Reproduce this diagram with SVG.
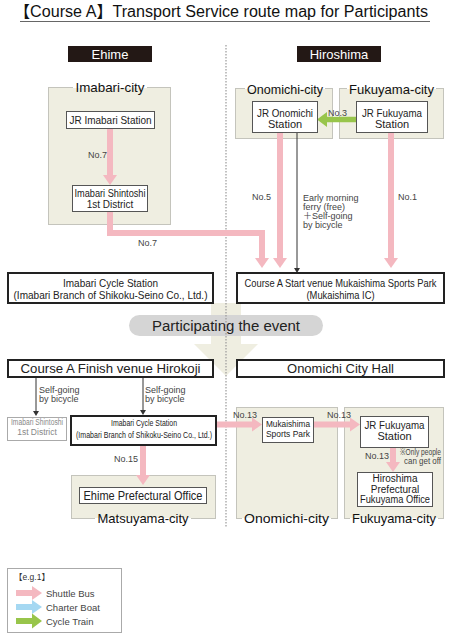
<svg xmlns="http://www.w3.org/2000/svg" width="450" height="640" viewBox="0 0 450 640">
<style>
text{font-family:"Liberation Sans","Noto Sans","Noto Sans CJK JP",sans-serif;fill:#222}
.city{fill:#efeee1;stroke:#c4c4bc;stroke-width:1}
.box{fill:#fff;stroke:#555;stroke-width:1}
.tbox{fill:#fff;stroke:#222;stroke-width:2}
.ct{font-size:13px;text-anchor:middle;fill:#111}
.bt{font-size:11px;text-anchor:middle}
.lb{font-size:9px;fill:#444}
.pink{fill:none;stroke:#f4b8c0;stroke-width:6}
.thin{fill:none;stroke:#333;stroke-width:1}
</style>
<defs>
<marker id="hp" markerUnits="userSpaceOnUse" markerWidth="10" markerHeight="14" refX="0" refY="7" orient="auto"><path d="M0,0 L10,7 L0,14 z" fill="#f4b8c0"/></marker>
<marker id="hb" markerUnits="userSpaceOnUse" markerWidth="10" markerHeight="16" refX="0" refY="8" orient="auto"><path d="M0,1 L10,8 L0,15 z" fill="#a5d8f2"/></marker>
<marker id="hg" markerUnits="userSpaceOnUse" markerWidth="10" markerHeight="16" refX="0" refY="8" orient="auto"><path d="M0,0.5 L10,8 L0,15.5 z" fill="#98c54b"/></marker>
<marker id="hk" markerUnits="userSpaceOnUse" markerWidth="5" markerHeight="6" refX="0" refY="3" orient="auto"><path d="M0,0 L5,3 L0,6 z" fill="#333"/></marker>
</defs>
<rect width="450" height="640" fill="#fff"/>

<!-- title -->
<g id="title">
<text x="14" y="17" font-size="16" textLength="414" lengthAdjust="spacingAndGlyphs" style="fill:#111">【Course A】Transport Service route map for Participants</text>
<line x1="20" y1="21.5" x2="430" y2="21.5" stroke="#666" stroke-width="1"/>
</g>

<!-- big beige arrow -->
<polygon id="participate-arrow" points="211,303 241,303 241,344 258,344 226,376 194,344 211,344" fill="#efeee1"/>

<!-- pill -->
<g id="participating">
<rect x="129" y="315" width="194" height="21" rx="10.5" fill="#d5d5d5"/>
<text x="226" y="331" font-size="14" text-anchor="middle" textLength="148" lengthAdjust="spacingAndGlyphs">Participating the event</text>
</g>

<!-- divider -->
<line x1="226" y1="45" x2="226" y2="527" stroke="#999" stroke-width="1.2" stroke-dasharray="1.5,1.5"/>

<!-- region headers -->
<g id="ehime">
<rect x="68" y="46" width="84" height="16" fill="#231815"/>
<text x="110" y="59" font-size="13" text-anchor="middle" style="fill:#fff">Ehime</text>
</g>
<g id="hiroshima">
<rect x="297" y="46" width="84" height="16" fill="#231815"/>
<text x="339" y="59" font-size="13" text-anchor="middle" style="fill:#fff">Hiroshima</text>
</g>

<!-- city areas -->
<g id="imabari-city">
<rect class="city" x="48.5" y="87.5" width="122" height="137"/>
<rect x="73" y="86" width="74" height="3" fill="#fff"/>
<rect x="73" y="88" width="74" height="2" fill="#efeee1"/>
<text class="ct" x="110" y="92" textLength="69" lengthAdjust="spacingAndGlyphs">Imabari-city</text>
</g>
<g id="onomichi-city-top">
<rect class="city" x="235.5" y="88.5" width="97" height="50"/>
<rect x="245" y="87" width="80" height="3" fill="#fff"/>
<rect x="245" y="89" width="80" height="2" fill="#efeee1"/>
<text class="ct" x="285" y="94" textLength="76" lengthAdjust="spacingAndGlyphs">Onomichi-city</text>
</g>
<g id="fukuyama-city-top">
<rect class="city" x="339.5" y="88.5" width="104" height="50"/>
<rect x="347" y="87" width="89" height="3" fill="#fff"/>
<rect x="347" y="89" width="89" height="2" fill="#efeee1"/>
<text class="ct" x="391.5" y="94" textLength="85" lengthAdjust="spacingAndGlyphs">Fukuyama-city</text>
</g>
<g id="matsuyama-city">
<rect class="city" x="71.5" y="475.5" width="144" height="43"/>
<rect x="95" y="516" width="96" height="4" fill="#fff"/>
<rect x="95" y="516" width="96" height="2" fill="#efeee1"/>
<text class="ct" x="143" y="523" textLength="91" lengthAdjust="spacingAndGlyphs">Matsuyama-city</text>
</g>
<g id="onomichi-city-bottom">
<rect class="city" x="236.5" y="407.5" width="101" height="111"/>
<rect x="242" y="516" width="89" height="4" fill="#fff"/>
<rect x="242" y="516" width="89" height="2" fill="#efeee1"/>
<text class="ct" x="286.5" y="523" textLength="85" lengthAdjust="spacingAndGlyphs">Onomichi-city</text>
</g>
<g id="fukuyama-city-bottom">
<rect class="city" x="344.5" y="407.5" width="99" height="111"/>
<rect x="350" y="516" width="88" height="4" fill="#fff"/>
<rect x="350" y="516" width="88" height="2" fill="#efeee1"/>
<text class="ct" x="394" y="523" textLength="84" lengthAdjust="spacingAndGlyphs">Fukuyama-city</text>
</g>

<!-- connectors -->
<g id="connectors">
<path class="pink" d="M110,128 V175" marker-end="url(#hp)"/>
<path class="pink" d="M110,211 V233 H262 V258" marker-end="url(#hp)"/>
<path class="pink" d="M280,132 V258" marker-end="url(#hp)"/>
<path class="pink" d="M391,132 V258" marker-end="url(#hp)"/>
<path class="thin" d="M297,132 V268" marker-end="url(#hk)"/>
<path d="M356,119.5 H327" fill="none" stroke="#98c54b" stroke-width="5.5" marker-end="url(#hg)"/>
<path class="thin" d="M36,377 V411" marker-end="url(#hk)"/>
<path class="thin" d="M143,377 V410" marker-end="url(#hk)"/>
<path class="pink" d="M143,445 V475" marker-end="url(#hp)"/>
<path class="pink" d="M216,424.5 H252" marker-end="url(#hp)"/>
<path class="pink" d="M313,424.5 H350" marker-end="url(#hp)"/>
<path class="pink" d="M393,447 V462" marker-end="url(#hp)"/>
<text class="lb" x="88" y="158">No.7</text>
<text class="lb" x="138" y="246">No.7</text>
<text class="lb" x="252" y="200">No.5</text>
<text class="lb" x="398" y="200">No.1</text>
<text class="lb" x="328" y="115.5">No.3</text>
<text class="lb" x="303" y="201">Early morning</text>
<text class="lb" x="303" y="210">ferry (free)</text>
<text class="lb" x="303" y="219">＋Self-going</text>
<text class="lb" x="303" y="228">by bicycle</text>
<text class="lb" x="39" y="393">Self-going</text>
<text class="lb" x="39" y="402">by bicycle</text>
<text class="lb" x="145" y="393">Self-going</text>
<text class="lb" x="145" y="402">by bicycle</text>
<text class="lb" x="114" y="462">No.15</text>
<text class="lb" x="233" y="418">No.13</text>
<text class="lb" x="327" y="418">No.13</text>
<text class="lb" x="365" y="459">No.13</text>
<text class="lb" x="400" y="455" font-size="8.5" textLength="41" lengthAdjust="spacingAndGlyphs">※Only people</text>
<text class="lb" x="404" y="464" font-size="8.5" textLength="37" lengthAdjust="spacingAndGlyphs">can get off</text>
</g>

<!-- nodes -->
<g id="jr-imabari">
<rect class="box" x="66.5" y="111.5" width="88" height="17"/>
<text class="bt" x="110.5" y="124" textLength="82" lengthAdjust="spacingAndGlyphs">JR Imabari Station</text>
</g>
<g id="imabari-shintoshi">
<rect class="box" x="72.5" y="185.5" width="75" height="26"/>
<text x="110" y="197" font-size="10" text-anchor="middle" textLength="71" lengthAdjust="spacingAndGlyphs">Imabari Shintoshi</text>
<text x="110" y="207.5" font-size="10" text-anchor="middle">1st District</text>
</g>
<g id="jr-onomichi">
<rect class="box" x="252.5" y="101.5" width="65" height="31"/>
<text class="bt" x="285" y="117" textLength="56" lengthAdjust="spacingAndGlyphs">JR Onomichi</text>
<text class="bt" x="285" y="128">Station</text>
</g>
<g id="jr-fukuyama">
<rect class="box" x="356.5" y="101.5" width="71" height="31"/>
<text class="bt" x="392" y="117" textLength="60" lengthAdjust="spacingAndGlyphs">JR Fukuyama</text>
<text class="bt" x="392" y="128">Station</text>
</g>
<g id="imabari-cycle-station">
<rect class="tbox" x="8" y="273" width="205" height="30"/>
<text class="bt" x="110.5" y="287" textLength="95" lengthAdjust="spacingAndGlyphs">Imabari Cycle Station</text>
<text class="bt" x="110.5" y="299" textLength="194" lengthAdjust="spacingAndGlyphs">(Imabari Branch of Shikoku-Seino Co., Ltd.)</text>
</g>
<g id="start-venue">
<rect class="tbox" x="237" y="273" width="207" height="30"/>
<text class="bt" x="340.5" y="287" textLength="192" lengthAdjust="spacingAndGlyphs">Course A Start venue Mukaishima Sports Park</text>
<text class="bt" x="340.5" y="299" textLength="68" lengthAdjust="spacingAndGlyphs">(Mukaishima IC)</text>
</g>
<g id="finish-venue">
<rect class="tbox" x="8" y="360" width="205" height="17"/>
<text x="110.5" y="373" font-size="13" text-anchor="middle" textLength="180" lengthAdjust="spacingAndGlyphs">Course A Finish venue Hirokoji</text>
</g>
<g id="onomichi-city-hall">
<rect class="tbox" x="237" y="360" width="207" height="17"/>
<text x="340.5" y="373" font-size="13" text-anchor="middle">Onomichi City Hall</text>
</g>
<g id="imabari-shintoshi-2">
<rect x="7.5" y="417.5" width="59" height="23" fill="#fff" stroke="#aaa" stroke-width="1"/>
<text x="37" y="425" font-size="8.5" text-anchor="middle" textLength="52" lengthAdjust="spacingAndGlyphs" style="fill:#888">Imabari Shintoshi</text>
<text x="37" y="435" font-size="8.5" text-anchor="middle" style="fill:#888">1st District</text>
</g>
<g id="imabari-cycle-station-2">
<rect class="tbox" x="71" y="416" width="145" height="29"/>
<text x="144" y="426" font-size="8.5" text-anchor="middle" textLength="66" lengthAdjust="spacingAndGlyphs">Imabari Cycle Station</text>
<text x="144" y="438" font-size="8.5" text-anchor="middle" textLength="136" lengthAdjust="spacingAndGlyphs">(Imabari Branch of Shikoku-Seino Co., Ltd.)</text>
</g>
<g id="ehime-pref-office">
<rect class="box" x="79.5" y="487.5" width="127" height="16"/>
<text x="143" y="500" font-size="12" text-anchor="middle" textLength="119" lengthAdjust="spacingAndGlyphs">Ehime Prefectural Office</text>
</g>
<g id="mukaishima-sports-park">
<rect class="box" x="262.5" y="417.5" width="51" height="25"/>
<text x="288" y="427" font-size="9" text-anchor="middle" textLength="44" lengthAdjust="spacingAndGlyphs">Mukaishima</text>
<text x="288" y="437" font-size="9" text-anchor="middle" textLength="44" lengthAdjust="spacingAndGlyphs">Sports Park</text>
</g>
<g id="jr-fukuyama-2">
<rect class="box" x="360.5" y="416.5" width="68" height="31"/>
<text class="bt" x="394.5" y="429" textLength="60" lengthAdjust="spacingAndGlyphs">JR Fukuyama</text>
<text class="bt" x="394.5" y="440">Station</text>
</g>
<g id="hiroshima-pref-fukuyama">
<rect class="box" x="357.5" y="472.5" width="75" height="34"/>
<text x="395" y="482" font-size="10" text-anchor="middle">Hiroshima</text>
<text x="395" y="492.5" font-size="10" text-anchor="middle">Prefectural</text>
<text x="395" y="503" font-size="10" text-anchor="middle" textLength="70" lengthAdjust="spacingAndGlyphs">Fukuyama Office</text>
</g>

<!-- legend -->
<g id="legend">
<rect x="7.5" y="568.5" width="114" height="64" fill="#fff" stroke="#aaa" stroke-width="1"/>
<text x="14" y="580" font-size="8.5" style="fill:#333">【e.g.1】</text>
<path d="M16,593 H32" stroke="#f4b8c0" stroke-width="6" marker-end="url(#hp)"/>
<path d="M16,607 H32" stroke="#a5d8f2" stroke-width="6" marker-end="url(#hb)"/>
<path d="M16,621 H32" stroke="#98c54b" stroke-width="6" marker-end="url(#hg)"/>
<text x="46" y="596.5" font-size="9.5" style="fill:#444">Shuttle Bus</text>
<text x="46" y="610.5" font-size="9.5" style="fill:#444">Charter Boat</text>
<text x="46" y="624.5" font-size="9.5" style="fill:#444">Cycle Train</text>
</g>
</svg>
